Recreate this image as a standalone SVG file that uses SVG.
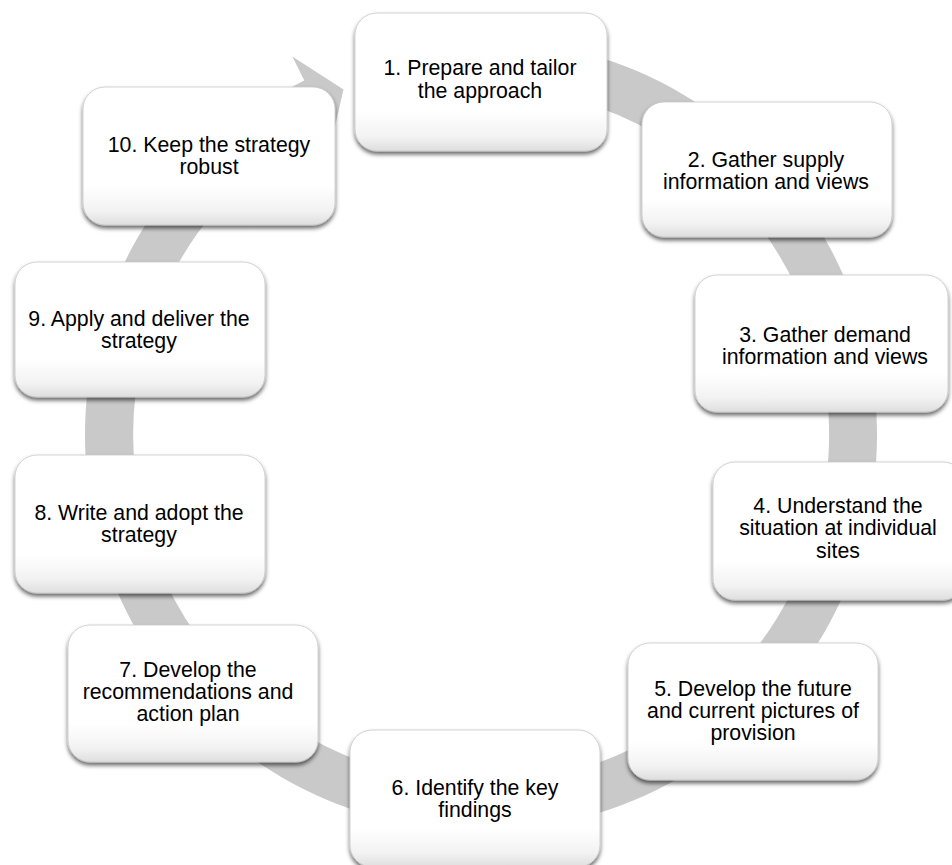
<svg xmlns="http://www.w3.org/2000/svg" width="952" height="865" viewBox="0 0 952 865">
<style>
.node rect{fill:url(#nodeFill);stroke:#c8c8c8;stroke-width:0.8;filter:url(#shadow)}
.node text{font-family:"Liberation Sans",Arial,sans-serif;font-size:21.3px;fill:#000;text-anchor:middle}
.ring{fill:#c9c9c9}
</style>
<defs>
<linearGradient id="nodeFill" x1="0" y1="0" x2="0" y2="1">
<stop offset="0" stop-color="#ffffff"/>
<stop offset="0.72" stop-color="#ffffff"/>
<stop offset="0.9" stop-color="#f2f2f2"/>
<stop offset="1" stop-color="#dedede"/>
</linearGradient>
<filter id="shadow" x="-10%" y="-10%" width="120%" height="130%">
<feDropShadow dx="0" dy="3" stdDeviation="2" flood-color="#000" flood-opacity="0.6"/>
</filter>
</defs>
<rect width="952" height="865" fill="#fff"/>
<g id="connectors">
<path class="ring" d="M446.5,40.5 A396,396 0 1 1 304.3,80.6 L292.3,56.4 L343.5,89.4 L332.4,137.6 L325.7,123.6 A348,348 0 1 0 450.7,88.3 Z"/>
</g>
<g id="node1" class="node"><rect x="355" y="13" width="252" height="138" rx="22"/><text x="480" y="75">1. Prepare and tailor</text><text x="480" y="98">the approach</text></g>
<g id="node2" class="node"><rect x="642" y="102" width="250" height="135" rx="22"/><text x="766" y="167">2. Gather supply</text><text x="766" y="189">information and views</text></g>
<g id="node3" class="node"><rect x="695" y="275" width="253" height="137" rx="22"/><text x="825" y="342">3. Gather demand</text><text x="825" y="364">information and views</text></g>
<g id="node4" class="node"><rect x="713" y="462" width="252" height="138" rx="22"/><text x="838" y="513">4. Understand the</text><text x="838" y="535">situation at individual</text><text x="838" y="558">sites</text></g>
<g id="node5" class="node"><rect x="628" y="643" width="250" height="137" rx="22"/><text x="753" y="696">5. Develop the future</text><text x="753" y="718">and current pictures of</text><text x="753" y="740">provision</text></g>
<g id="node6" class="node"><rect x="350" y="730" width="250" height="137" rx="22"/><text x="475" y="795">6. Identify the key</text><text x="475" y="817">findings</text></g>
<g id="node7" class="node"><rect x="68" y="625" width="250" height="137" rx="22"/><text x="188" y="677">7. Develop the</text><text x="188" y="699">recommendations and</text><text x="188" y="721">action plan</text></g>
<g id="node8" class="node"><rect x="15" y="455" width="250" height="138" rx="22"/><text x="139" y="520">8. Write and adopt the</text><text x="139" y="542">strategy</text></g>
<g id="node9" class="node"><rect x="15" y="262" width="250" height="135" rx="22"/><text x="139" y="326">9. Apply and deliver the</text><text x="139" y="348">strategy</text></g>
<g id="node10" class="node"><rect x="83" y="87" width="252" height="138" rx="22"/><text x="209" y="152">10. Keep the strategy</text><text x="209" y="174">robust</text></g>
</svg>
